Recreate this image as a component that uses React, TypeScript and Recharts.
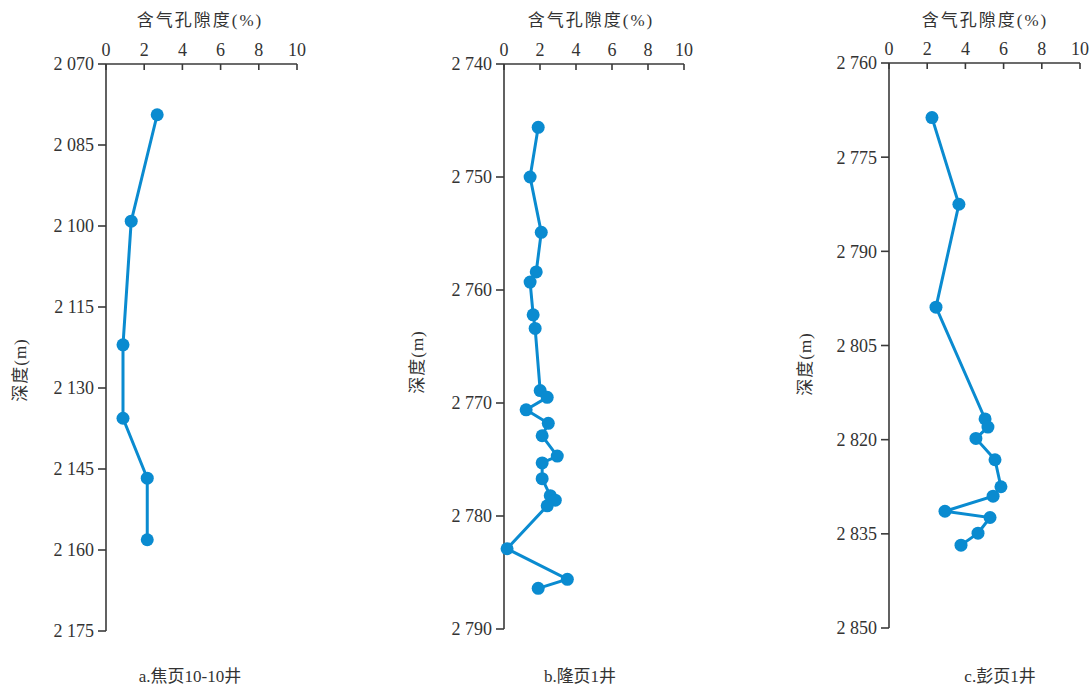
import React from "react";
import { ScatterChart, Scatter, XAxis, YAxis } from "recharts";

// porosity (%) / depth (m) pairs
const jiaoyePorosity = [2.68, 1.32, 0.89, 0.89, 2.16, 2.16];
const jiaoyeDepth = [2079.4, 2099.1, 2122.0, 2135.6, 2146.7, 2158.1];

const longyePorosity = [
    1.9, 1.45, 2.07, 1.79, 1.45, 1.62, 1.73, 2.01, 2.4, 1.23, 2.46, 2.12,
    2.96, 2.12, 2.12, 2.57, 2.85, 2.4, 0.17, 3.52, 1.9,
];
const longyeDepth = [
    2745.6, 2750.0, 2754.9, 2758.4, 2759.3, 2762.2, 2763.4, 2768.9, 2769.5,
    2770.6, 2771.8, 2772.9, 2774.7, 2775.3, 2776.7, 2778.2, 2778.6, 2779.1,
    2782.9, 2785.6, 2786.4,
];

const pengyePorosity = [
    2.25, 3.66, 2.46, 5.03, 5.18, 4.55, 5.55, 5.86, 5.45, 2.93, 5.29, 4.66,
    3.77,
];
const pengyeDepth = [
    2768.7, 2782.5, 2798.9, 2816.7, 2818.0, 2819.8, 2823.2, 2827.5, 2829.0,
    2831.4, 2832.4, 2834.9, 2836.8,
];

const porosityTicks = [0, 2, 4, 6, 8, 10];
const jiaoyeTicks = [2070, 2085, 2100, 2115, 2130, 2145, 2160, 2175];
const longyeTicks = [2740, 2750, 2760, 2770, 2780, 2790];
const pengyeTicks = [2760, 2775, 2790, 2805, 2820, 2835, 2850];

const xLabel = "含气孔隙度(%)";
const yLabel = "深度(m)";
const captions = ["a.焦页10-10井", "b.隆页1井", "c.彭页1井"];

const BLUE = "#0a8bd0";
const AXIS = "#3a3a3a";
const FONT =
    "Liberation Serif, Times New Roman, DejaVu Serif, Noto Sans CJK SC, serif";

const toPoints = (xs: number[], ys: number[]) =>
    xs.map((phi, i) => ({ phi, depth: ys[i] }));

const fmtDepth = (v: number) => String(v).replace(/^(\d)(\d{3})$/, "$1 $2");

const Dot = (props: any) => (
    <circle cx={props.cx} cy={props.cy} r={6.5} fill={BLUE} />
);

interface PanelProps {
    left: number;
    width: number;
    margin: { top: number; right: number; bottom: number; left: number };
    data: { phi: number; depth: number }[];
    ticks: number[];
}

const Panel: React.FC<PanelProps> = ({ left, width, margin, data, ticks }) => (
    <div style={{ position: "absolute", left, top: 0 }}>
        <ScatterChart width={width} height={685} margin={margin}>
            <XAxis
                type="number"
                dataKey="phi"
                orientation="top"
                domain={[0, 10]}
                ticks={porosityTicks}
                height={30}
                tickSize={-6}
                tickMargin={14}
                stroke={AXIS}
                strokeWidth={1.6}
                tick={{ fill: "#333", fontSize: 18, fontFamily: FONT }}
            />
            <YAxis
                type="number"
                dataKey="depth"
                reversed
                domain={[ticks[0], ticks[ticks.length - 1]]}
                ticks={ticks}
                width={60}
                tickSize={8}
                tickMargin={4}
                tickFormatter={fmtDepth}
                stroke={AXIS}
                strokeWidth={1.6}
                tick={{ fill: "#333", fontSize: 18, fontFamily: FONT }}
            />
            <Scatter
                data={data}
                fill={BLUE}
                line={{ stroke: BLUE, strokeWidth: 3 }}
                lineType="joint"
                shape={<Dot />}
                isAnimationActive={false}
            />
        </ScatterChart>
    </div>
);

const textStyle: React.CSSProperties = {
    position: "absolute",
    fontFamily: FONT,
    color: "#333",
    whiteSpace: "nowrap",
};

const TopLabel = ({ x }: { x: number }) => (
    <div
        style={{
            ...textStyle,
            left: x,
            top: 18,
            fontSize: 17,
            letterSpacing: 2,
            transform: "translate(-50%, -50%)",
        }}
    >
        {xLabel}
    </div>
);

const SideLabel = ({ x, y }: { x: number; y: number }) => (
    <div
        style={{
            ...textStyle,
            left: x,
            top: y,
            fontSize: 17,
            letterSpacing: 1,
            transform: "translate(-50%, -50%) rotate(-90deg)",
        }}
    >
        {yLabel}
    </div>
);

const Caption = ({ x, text }: { x: number; text: string }) => (
    <div
        style={{
            ...textStyle,
            left: x,
            top: 674,
            fontSize: 17,
            transform: "translate(-50%, -50%)",
        }}
    >
        {text}
    </div>
);

export default function App() {
    return (
        <div
            style={{
                position: "absolute",
                left: 0,
                top: 0,
                width: 1092,
                height: 685,
                background: "#fff",
                overflow: "hidden",
            }}
        >
            <Panel
                left={0}
                width={320}
                margin={{ top: 34, right: 23, bottom: 54, left: 46 }}
                data={toPoints(jiaoyePorosity, jiaoyeDepth)}
                ticks={jiaoyeTicks}
            />
            <Panel
                left={400}
                width={310}
                margin={{ top: 34, right: 26, bottom: 56, left: 44 }}
                data={toPoints(longyePorosity, longyeDepth)}
                ticks={longyeTicks}
            />
            <Panel
                left={780}
                width={312}
                margin={{ top: 33, right: 12, bottom: 57, left: 49 }}
                data={toPoints(pengyePorosity, pengyeDepth)}
                ticks={pengyeTicks}
            />
            <TopLabel x={200} />
            <TopLabel x={591} />
            <TopLabel x={985} />
            <SideLabel x={18} y={370} />
            <SideLabel x={415} y={362} />
            <SideLabel x={803} y={364} />
            <Caption x={190} text={captions[0]} />
            <Caption x={580} text={captions[1]} />
            <Caption x={1000} text={captions[2]} />
        </div>
    );
}
